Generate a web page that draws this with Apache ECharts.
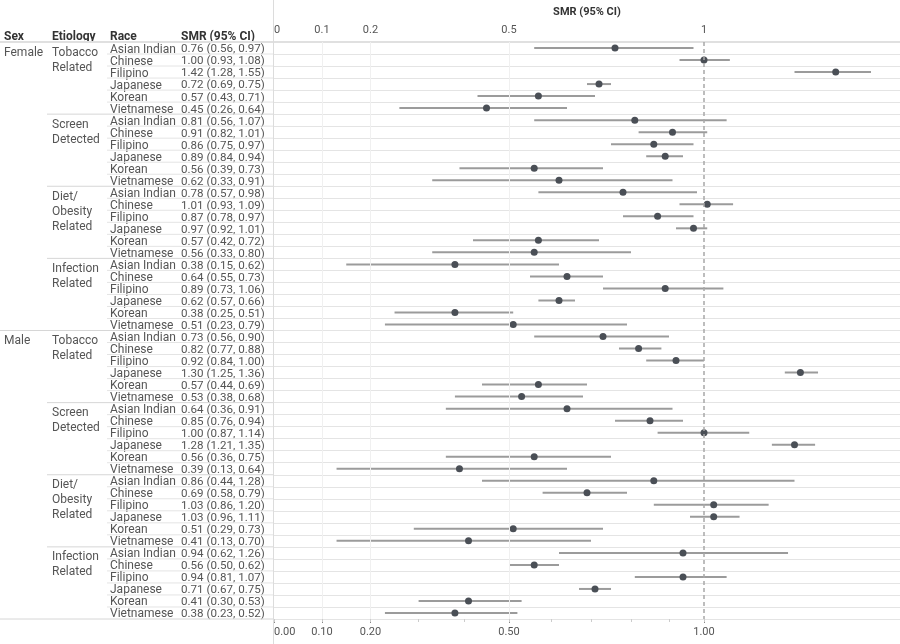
<!DOCTYPE html>
<html>
<head>
<meta charset="utf-8">
<script src="https://cdn.jsdelivr.net/npm/echarts@6/dist/echarts.min.js"></script>
<style>
html,body{margin:0;padding:0;background:#fff;}
#chart{width:900px;height:644px;}
</style>
</head>
<body>
<div id="chart"></div>
<script>
// ---------------- DATA ----------------
const sexes = ['Female', 'Male'];
const etiologies = ['Tobacco\nRelated', 'Screen\nDetected', 'Diet/\nObesity\nRelated', 'Infection\nRelated'];
const races = ['Asian Indian', 'Chinese', 'Filipino', 'Japanese', 'Korean', 'Vietnamese'];

// rows in order: Female (Tobacco, Screen, Diet, Infection), Male (same)
const smrValues = [
  0.76, 1.00, 1.42, 0.72, 0.57, 0.45,
  0.81, 0.91, 0.86, 0.89, 0.56, 0.62,
  0.78, 1.01, 0.87, 0.97, 0.57, 0.56,
  0.38, 0.64, 0.89, 0.62, 0.38, 0.51,
  0.73, 0.82, 0.92, 1.30, 0.57, 0.53,
  0.64, 0.85, 1.00, 1.28, 0.56, 0.39,
  0.86, 0.69, 1.03, 1.03, 0.51, 0.41,
  0.94, 0.56, 0.94, 0.71, 0.41, 0.38
];
const lowerCI = [
  0.56, 0.93, 1.28, 0.69, 0.43, 0.26,
  0.56, 0.82, 0.75, 0.84, 0.39, 0.33,
  0.57, 0.93, 0.78, 0.92, 0.42, 0.33,
  0.15, 0.55, 0.73, 0.57, 0.25, 0.23,
  0.56, 0.77, 0.84, 1.25, 0.44, 0.38,
  0.36, 0.76, 0.87, 1.21, 0.36, 0.13,
  0.44, 0.58, 0.86, 0.96, 0.29, 0.13,
  0.62, 0.50, 0.81, 0.67, 0.30, 0.23
];
const upperCI = [
  0.97, 1.08, 1.55, 0.75, 0.71, 0.64,
  1.07, 1.01, 0.97, 0.94, 0.73, 0.91,
  0.98, 1.09, 0.97, 1.01, 0.72, 0.80,
  0.62, 0.73, 1.06, 0.66, 0.51, 0.79,
  0.90, 0.88, 1.00, 1.36, 0.69, 0.68,
  0.91, 0.94, 1.14, 1.35, 0.75, 0.64,
  1.28, 0.79, 1.20, 1.11, 0.73, 0.70,
  1.26, 0.62, 1.07, 0.75, 0.53, 0.52
];

const topTickValues = [0, 0.1, 0.2, 0.5, 1];
const topTickLabels = ['0', '0.1', '0.2', '0.5', '1'];
const bottomTickLabels = ['0.00', '0.10', '0.20', '0.50', '1.00'];
const minorTickValues = [0, 0.1, 0.2, 0.3, 0.4, 0.5, 0.6, 0.7, 0.8, 0.9, 1.0];
const referenceValue = 1;
const gridValues = [0.1, 0.2, 0.5];

// ---------------- AXIS TRANSFORM (compressed scale) ----------------
const knots = [[0,0],[0.1,48],[0.2,96.5],[0.3,144.6],[0.4,190],[0.5,235],[0.6,277],[0.7,317],[0.8,357],[0.9,395],[1.0,430],[1.28,520.5],[1.42,561.7],[1.55,597]];
function T(v) {
  for (let k = 1; k < knots.length; k++) {
    if (v <= knots[k][0] || k === knots.length - 1) {
      const a = knots[k-1], b = knots[k];
      return a[1] + (v - a[0]) * (b[1] - a[1]) / (b[0] - a[0]);
    }
  }
}

const nRows = smrValues.length;
const rowIds = smrValues.map((_, i) => String(i));
const perGroup = races.length;
const perSex = perGroup * etiologies.length;
const fmt = v => v.toFixed(2);

const FONT = 'Roboto, "Noto Sans", sans-serif';
const txtColor = '#555';
const topLabelMap = {}; topTickValues.forEach((v, i) => topLabelMap[T(v).toFixed(3)] = topTickLabels[i]);
const botLabelMap = {}; topTickValues.forEach((v, i) => botLabelMap[T(v).toFixed(3)] = bottomTickLabels[i]);

const chart = echarts.init(document.getElementById('chart'), null, {renderer: 'canvas'});

const tableData = rowIds.map((id, i) => [0, i]);

const option = {
  animation: false,
  backgroundColor: '#fff',
  grid: [
    {left: 274, right: 0, top: 42, bottom: 25},
    {left: 0, width: 273, top: 42, bottom: 25}
  ],
  xAxis: [
    {
      gridIndex: 0, type: 'value', position: 'top', min: 0, max: 626,
      name: 'SMR (95% CI)', nameLocation: 'middle', nameGap: 24,
      nameTextStyle: {fontFamily: FONT, fontSize: 11, fontWeight: 'bold', color: '#333'},
      axisLine: {show: false}, axisTick: {show: false}, splitLine: {show: false},
      axisLabel: {
        customValues: topTickValues.map(T), margin: 6, fontFamily: FONT, fontSize: 11, color: '#555',
        alignMinLabel: 'left',
        formatter: v => topLabelMap[Number(v).toFixed(3)] || ''
      }
    },
    {
      gridIndex: 0, type: 'value', position: 'bottom', min: 0, max: 626,
      axisLine: {show: false}, splitLine: {show: false},
      axisTick: {show: true, customValues: topTickValues.map(T), length: 4, lineStyle: {color: '#888'}},
      axisLabel: {
        customValues: topTickValues.map(T), margin: 8, fontFamily: FONT, fontSize: 11, color: '#555',
        alignMinLabel: 'left',
        formatter: v => botLabelMap[Number(v).toFixed(3)] || ''
      }
    },
    {
      gridIndex: 0, type: 'value', position: 'bottom', min: 0, max: 626,
      axisLine: {show: false}, splitLine: {show: false}, axisLabel: {show: false},
      axisTick: {show: true, customValues: minorTickValues.map(T), length: 3, lineStyle: {color: '#ccc'}}
    },
    {
      gridIndex: 1, type: 'value', min: 0, max: 273, show: false
    }
  ],
  yAxis: [
    {
      gridIndex: 0, type: 'category', data: rowIds, inverse: true,
      axisLine: {show: false}, axisTick: {show: false}, axisLabel: {show: false},
      splitLine: {show: true, interval: 0, lineStyle: {color: '#e4e4e4', width: 1}}
    },
    {
      gridIndex: 1, type: 'category', data: rowIds, inverse: true, show: false
    }
  ],
  graphic: [
    {type: 'line', shape: {x1: 0, y1: 42, x2: 900, y2: 42}, style: {stroke: '#e0e0e0', lineWidth: 2}, z: 1},
    {type: 'line', shape: {x1: 273.5, y1: 0, x2: 273.5, y2: 644}, style: {stroke: '#dcdcdc', lineWidth: 1}, z: 1},
    {type: 'text', left: 4, top: 31, style: {text: 'Sex', font: 'bold 12px ' + FONT, fill: '#333'}},
    {type: 'text', left: 52, top: 31, style: {text: 'Etiology', font: 'bold 12px ' + FONT, fill: '#333'}},
    {type: 'text', left: 110, top: 31, style: {text: 'Race', font: 'bold 12px ' + FONT, fill: '#333'}},
    {type: 'text', left: 181, top: 31, style: {text: 'SMR (95% CI)', font: 'bold 12px ' + FONT, fill: '#333'}}
  ],
  series: [
    {
      type: 'custom', name: 'table', xAxisIndex: 3, yAxisIndex: 1, clip: false,
      data: tableData, silent: true,
      renderItem: function (params, api) {
        const i = api.value(1);
        const c = api.coord([0, i]);
        const h = api.size([0, 1])[1];
        const yc = c[1];
        const yb = yc + h / 2;
        const yt = yc - h / 2;
        const children = [];
        const x = px => api.coord([px, i])[0];
        children.push({type: 'text', style: {text: races[i % perGroup], x: x(110), y: yc + 1.5, textVerticalAlign: 'middle', font: '12px ' + FONT, fill: txtColor}});
        children.push({type: 'text', style: {text: fmt(smrValues[i]) + ' (' + fmt(lowerCI[i]) + ', ' + fmt(upperCI[i]) + ')', x: x(181), y: yc + 1.5, textVerticalAlign: 'middle', font: '11.6px ' + FONT, fill: txtColor}});
        let lx = 107, col = '#e4e4e4';
        if ((i + 1) % perGroup === 0) { lx = 47; col = '#d6d6d6'; }
        if ((i + 1) % perSex === 0) { lx = 0; col = '#d6d6d6'; }
        children.push({type: 'line', shape: {x1: x(lx), y1: yb, x2: x(273), y2: yb}, style: {stroke: col, lineWidth: 1}});
        if (i % perGroup === 0) {
          const g = Math.floor(i / perGroup) % etiologies.length;
          children.push({type: 'text', style: {text: etiologies[g], x: x(52), y: yt + 3, textVerticalAlign: 'top', font: '12px ' + FONT, fill: txtColor, lineHeight: 15}});
        }
        if (i % perSex === 0) {
          children.push({type: 'text', style: {text: sexes[Math.floor(i / perSex)], x: x(4), y: yt + 3, textVerticalAlign: 'top', font: '12px ' + FONT, fill: txtColor, lineHeight: 15}});
        }
        return {type: 'group', children: children};
      }
    },
    {
      type: 'custom', name: 'CI', xAxisIndex: 0, yAxisIndex: 0,
      data: rowIds.map((id, i) => [T(lowerCI[i]), T(upperCI[i]), i]),
      encode: {x: [0, 1], y: 2},
      renderItem: function (params, api) {
        const p1 = api.coord([api.value(0), api.value(2)]);
        const p2 = api.coord([api.value(1), api.value(2)]);
        return {type: 'line', shape: {x1: p1[0], y1: p1[1], x2: p2[0], y2: p2[1]}, style: {stroke: '#9b9b9b', lineWidth: 2}};
      },
      z: 3
    },
    {
      type: 'scatter', name: 'SMR', xAxisIndex: 0, yAxisIndex: 0,
      data: rowIds.map((id, i) => [T(smrValues[i]), i]),
      symbolSize: 7,
      itemStyle: {color: '#4a4f56', opacity: 1},
      z: 4,
      markLine: {
        silent: true, symbol: 'none', label: {show: false}, animation: false,
        data: [
          ...gridValues.map(v => ({xAxis: T(v), lineStyle: {color: '#f0f0f0', type: 'solid', width: 1}})),
          {xAxis: T(referenceValue), lineStyle: {color: '#a8a8a8', type: [4, 3], width: 1.5}}
        ]
      }
    }
  ]
};
chart.setOption(option);
</script>
</body>
</html>
